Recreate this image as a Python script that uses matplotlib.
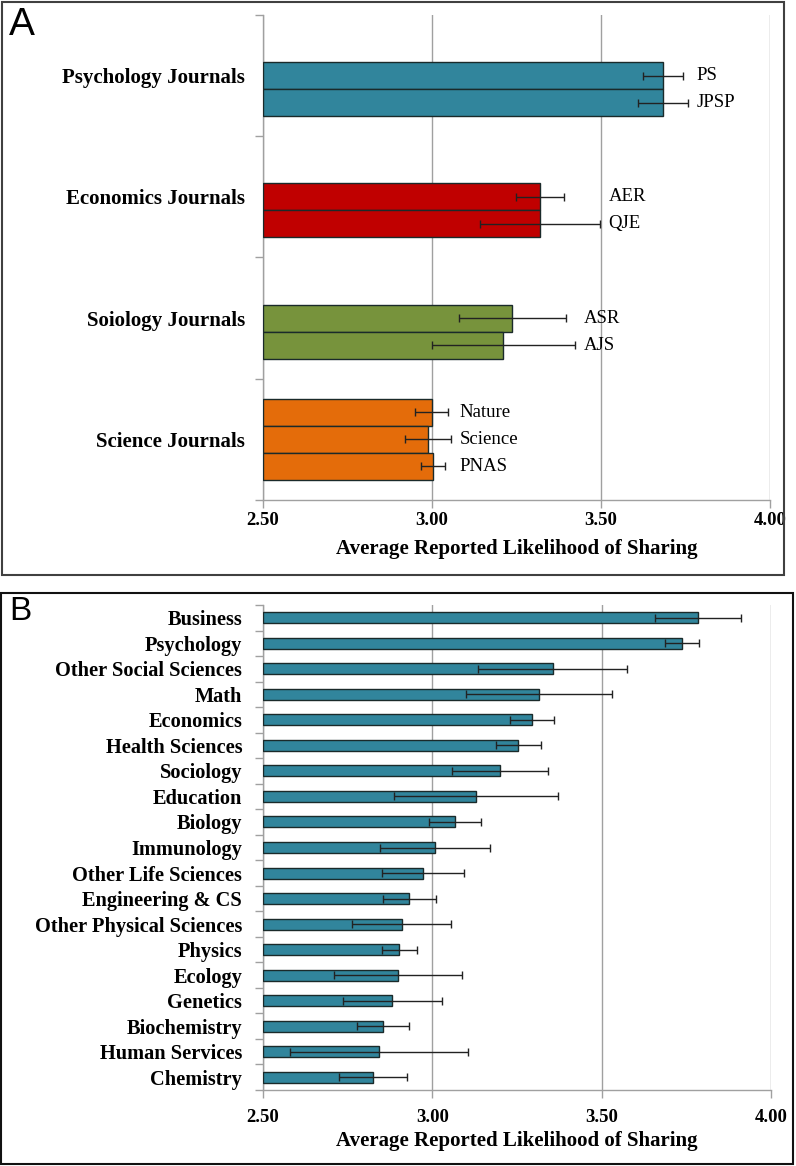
import matplotlib
matplotlib.use("Agg")
import matplotlib.pyplot as plt
from matplotlib.patches import Rectangle
import numpy as np

# ---------------- Data ----------------
# Panel A
groups_a = ["Psychology Journals", "Economics Journals", "Soiology Journals", "Science Journals"]
group_colors = ["#31859C", "#C00000", "#77933C", "#E46C0A"]
journals_a = ["PS", "JPSP", "AER", "QJE", "ASR", "AJS", "Nature", "Science", "PNAS"]
journal_group = [0, 0, 1, 1, 2, 2, 3, 3, 3]
values_a = [3.683, 3.683, 3.320, 3.320, 3.237, 3.211, 2.999, 2.988, 3.003]
errors_a = [0.060, 0.074, 0.071, 0.177, 0.158, 0.212, 0.048, 0.069, 0.036]

# Panel B
fields_b = ["Business", "Psychology", "Other Social Sciences", "Math", "Economics",
            "Health Sciences", "Sociology", "Education", "Biology", "Immunology",
            "Other Life Sciences", "Engineering & CS", "Other Physical Sciences",
            "Physics", "Ecology", "Genetics", "Biochemistry", "Human Services", "Chemistry"]
values_b = [3.785, 3.737, 3.355, 3.314, 3.293, 3.254, 3.201, 3.129, 3.067, 3.008,
            2.972, 2.932, 2.909, 2.903, 2.899, 2.882, 2.855, 2.843, 2.825]
errors_b = [0.127, 0.049, 0.220, 0.216, 0.065, 0.066, 0.142, 0.242, 0.077, 0.163,
            0.122, 0.078, 0.147, 0.053, 0.188, 0.146, 0.076, 0.263, 0.101]

xticks = [2.50, 3.00, 3.50, 4.00]
xlabel = "Average Reported Likelihood of Sharing"

# ---------------- Style ----------------
SERIF = ["Liberation Serif", "DejaVu Serif"]
SANS = ["Liberation Sans", "DejaVu Sans"]
AXCOL = "#a0a0a0"
W, H = 796, 1166
fig = plt.figure(figsize=(W / 100, H / 100), dpi=100)


def fx(px):
    return px / W


def fy(py):
    return 1 - py / H


def style_axis(ax, ncat, tickpad, labelpad):
    ax.set_xlim(2.5, 4.0)
    ax.set_ylim(ncat, 0)
    ax.set_xticks(xticks)
    ax.set_xticklabels([f"{t:.2f}" for t in xticks], fontfamily=SERIF,
                       fontweight="bold", fontsize=13.5)
    ax.tick_params(axis="x", direction="out", length=6, width=1, color=AXCOL,
                   pad=tickpad)
    ax.set_yticks(np.arange(ncat + 1))
    ax.set_yticklabels([])
    ax.tick_params(axis="y", which="major", direction="out", length=6, width=1,
                   color=AXCOL)
    for s in ["top", "right"]:
        ax.spines[s].set_visible(False)
    for s in ["left", "bottom"]:
        ax.spines[s].set_color(AXCOL)
        ax.spines[s].set_linewidth(1)
    ax.grid(axis="x", color=AXCOL, linewidth=1)
    ax.set_axisbelow(True)
    ax.set_xlabel(xlabel, fontfamily=SERIF, fontweight="bold", fontsize=15,
                  labelpad=labelpad)


# ---------------- Panel A ----------------
axA = fig.add_axes([fx(263), fy(500), fx(770) - fx(263), fy(15) - fy(500)])
style_axis(axA, len(groups_a), 3, 7)
slot_h = 27 / 121.25
counts = [journal_group.count(g) for g in range(len(groups_a))]
seen = [0] * len(groups_a)
ys = []
for j, g in enumerate(journal_group):
    k = seen[g]
    seen[g] += 1
    slot = (3 - counts[g]) + k
    ys.append(g + 0.5 + (slot - 1) * slot_h)
ys = np.array(ys)
cols = [group_colors[g] for g in journal_group]
axA.barh(ys, np.array(values_a) - 2.5, left=2.5, height=slot_h, color=cols,
         edgecolor="#1a2a2a", linewidth=1, zorder=3)
axA.errorbar(values_a, ys, xerr=errors_a, fmt="none", ecolor="#222222",
             elinewidth=1, capsize=3, capthick=1, zorder=4)
upper = np.array(values_a) + np.array(errors_a)
for g in range(len(groups_a)):
    idx = [j for j, gg in enumerate(journal_group) if gg == g]
    lx = upper[idx].max() + 0.025
    for j in idx:
        axA.text(lx, ys[j], journals_a[j], fontfamily=SERIF, fontsize=13.5,
                 ha="left", va="center", zorder=5)
axA.set_yticks(np.arange(len(groups_a)) + 0.5, minor=True)
axA.set_yticklabels(groups_a, minor=True, fontfamily=SERIF, fontweight="bold",
                    fontsize=15)
axA.tick_params(axis="y", which="minor", length=0, pad=13)

# ---------------- Panel B ----------------
axB = fig.add_axes([fx(263), fy(1090), fx(771) - fx(263), fy(605) - fy(1090)])
style_axis(axB, len(fields_b), 8, 3)
yb = np.arange(len(fields_b)) + 0.5
axB.barh(yb, np.array(values_b) - 2.5, left=2.5, height=0.43, color="#31859C",
         edgecolor="#1a2a2a", linewidth=1, zorder=3)
axB.errorbar(values_b, yb, xerr=errors_b, fmt="none", ecolor="#222222",
             elinewidth=1, capsize=3, capthick=1, zorder=4)
axB.set_yticks(yb, minor=True)
axB.set_yticklabels(fields_b, minor=True, fontfamily=SERIF, fontweight="bold",
                    fontsize=14.7)
axB.tick_params(axis="y", which="minor", length=0, pad=15)

# ---------------- Frames and panel letters ----------------
fig.add_artist(Rectangle((fx(2), fy(575)), fx(784) - fx(2), fy(2) - fy(575),
                         transform=fig.transFigure, fill=False,
                         edgecolor="#404040", linewidth=1.5))
fig.add_artist(Rectangle((fx(1), fy(1164)), fx(793) - fx(1), fy(593) - fy(1164),
                         transform=fig.transFigure, fill=False,
                         edgecolor="#111111", linewidth=1.5))
fig.text(fx(9), fy(25), "A", fontfamily=SANS, fontsize=28, ha="left", va="center")
fig.text(fx(9), fy(612), "B", fontfamily=SANS, fontsize=24, ha="left", va="center")

fig.savefig("out.png", dpi=100)
